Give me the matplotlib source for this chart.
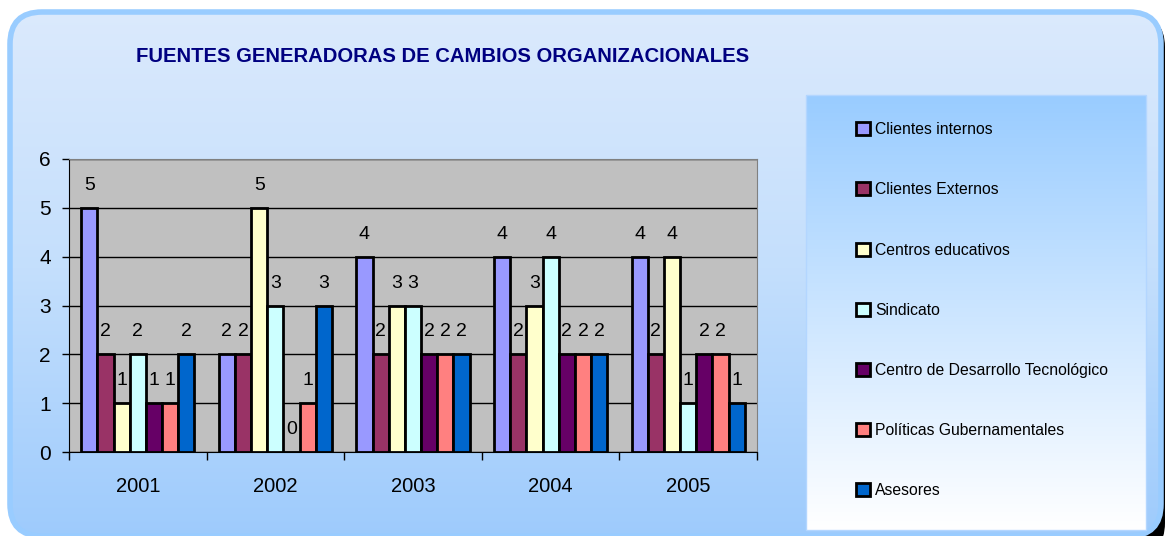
import numpy as np
import matplotlib
matplotlib.use("Agg")
from matplotlib import pyplot as plt
from matplotlib.patches import FancyBboxPatch, Rectangle
from matplotlib.colors import LinearSegmentedColormap

plt.rcParams['font.family'] = ['Liberation Sans Narrow', 'Liberation Sans', 'DejaVu Sans']

years = ['2001', '2002', '2003', '2004', '2005']
series = ['Clientes internos', 'Clientes Externos', 'Centros educativos', 'Sindicato',
          'Centro de Desarrollo Tecnológico', 'Políticas Gubernamentales', 'Asesores']
clientes_internos = [5, 2, 4, 4, 4]
clientes_externos = [2, 2, 2, 2, 2]
centros_educativos = [1, 5, 3, 3, 4]
sindicato = [2, 3, 3, 4, 1]
centro_desarrollo = [1, 0, 2, 2, 2]
politicas = [1, 1, 2, 2, 2]
asesores = [2, 3, 2, 2, 1]
values = [clientes_internos, clientes_externos, centros_educativos, sindicato,
          centro_desarrollo, politicas, asesores]
colors = ['#9999ff', '#993366', '#ffffcc', '#ccffff', '#660066', '#ff8080', '#0066cc']

W, H = 1170, 536
fig = plt.figure(figsize=(W / 100, H / 100), dpi=100)
fig.patch.set_facecolor('white')

# background panel (pixel coords, y down)
bg = fig.add_axes([0, 0, 1, 1])
bg.set_xlim(0, W)
bg.set_ylim(H, 0)
bg.axis('off')

# shadow only shows on the right side
shadow = FancyBboxPatch((600, 15), 565, 540, boxstyle='round,pad=0,rounding_size=32',
                        fc='black', ec='none')
bg.add_patch(shadow)
cmap = LinearSegmentedColormap.from_list('p', ['#dceafd', '#c4dffc', '#9ecbfd'])
grad = np.linspace(0, 1, 256).reshape(-1, 1)
im = bg.imshow(grad, cmap=cmap, extent=[0, W, H, 0], aspect='auto', zorder=1)
base = FancyBboxPatch((10, 12), 1151, 524, boxstyle='round,pad=0,rounding_size=32',
                      fc='none', ec='none')
bg.add_patch(base)
im.set_clip_path(base)
panel = FancyBboxPatch((10, 12), 1151, 524, boxstyle='round,pad=0,rounding_size=32',
                       fc='none', ec='#99ccff', lw=4, zorder=2)
bg.add_patch(panel)

# legend box gradient
lcmap = LinearSegmentedColormap.from_list('l', ['#99ccff', '#ffffff'])
lim = bg.imshow(grad, cmap=lcmap, extent=[806, 1146, 530, 95], aspect='auto', zorder=3)
lbox = Rectangle((806, 95), 340, 435, fc='none', ec='#b3d6ff', lw=1, zorder=4)
bg.add_patch(lbox)

fig.text(443 / W, 1 - 57 / H, 'FUENTES GENERADORAS DE CAMBIOS ORGANIZACIONALES',
         ha='center', va='center', fontsize=14.6, fontweight='bold', color='#000080')

# plot area
ax = fig.add_axes([69 / W, 1 - 452 / H, 688 / W, 293 / H])
ax.set_facecolor('#c0c0c0')
x = np.arange(len(years))
w = 1 / 8.5
handles = []
for i, (name, vals, c) in enumerate(zip(series, values, colors)):
    b = ax.bar(x + (i - 3) * w, vals, w, color=c, edgecolor='black', lw=2, label=name, zorder=3)
    ax.bar_label(b, padding=10, fontsize=14, zorder=4)
    handles.append(b)

ax.set_xlim(-0.5, 4.5)
ax.set_ylim(0, 6)
ax.set_yticks(range(7))
ax.yaxis.grid(True, color='black', lw=1)
ax.set_axisbelow(True)
ax.set_xticks(np.arange(-0.5, 5, 1))
ax.set_xticklabels([])
ax.set_xticks(x, minor=True)
ax.set_xticklabels(years, minor=True, fontsize=14.5)
ax.tick_params(axis='x', which='major', length=6, direction='out', width=1)
ax.tick_params(axis='x', which='minor', length=0, pad=18)
ax.tick_params(axis='y', length=5, width=1, labelsize=15, pad=8)
for s in ['top', 'right']:
    ax.spines[s].set_color('#808080')
for s in ['left', 'bottom']:
    ax.spines[s].set_color('black')

fig.legend(handles, series, loc='upper left', bbox_to_anchor=(842 / W, 1 - 108 / H),
           frameon=False, fontsize=11.3, handlelength=0.9, handleheight=0.9,
           handletextpad=0.3, labelspacing=2.88)

fig.savefig('out.png', dpi=100)
